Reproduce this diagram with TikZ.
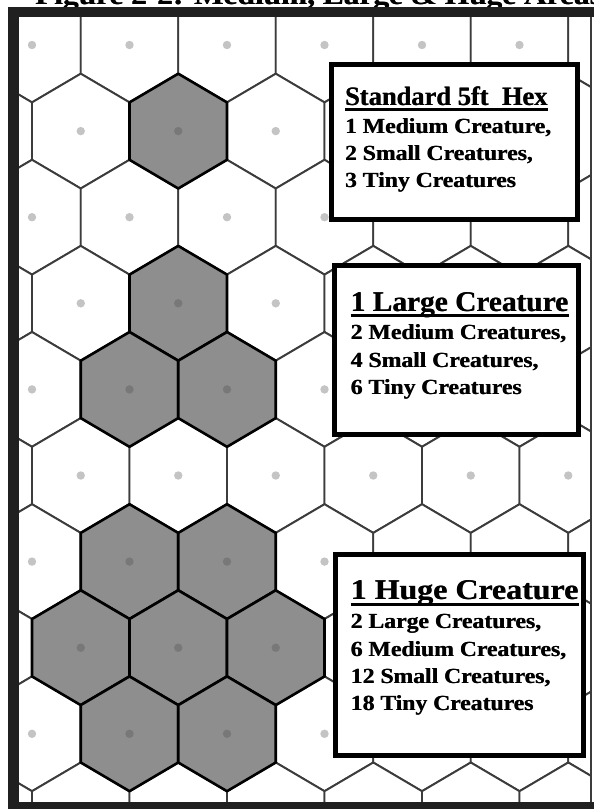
\documentclass[tikz,border=0pt]{standalone}
\usepackage{fontspec}
\setmainfont{Liberation Serif}
\usetikzlibrary{calc}
\definecolor{gridgray}{HTML}{3C3C3C}
\definecolor{shadegray}{HTML}{8E8E8E}
\definecolor{dotlight}{HTML}{C4C4C4}
\definecolor{dotdark}{HTML}{787878}
\definecolor{framecol}{HTML}{202020}
\newcommand{\tline}[3]{\scalebox{#1}[1]{\fontsize{#2}{#2}\selectfont\bfseries\rlap{#3}\kern0.45pt #3}}
\newcommand{\hexpath}[2]{(#1,#2-57.4) -- (#1+48.75,#2-28.7) -- (#1+48.75,#2+28.7) -- (#1,#2+57.4) -- (#1-48.75,#2+28.7) -- (#1-48.75,#2-28.7) -- cycle}
\begin{document}
\begin{tikzpicture}[x=1pt,y=-1pt,
  whitehex/.style={draw=gridgray,line width=1.9pt,fill=white,line join=round},
  shadehex/.style={draw=black,line width=2.6pt,fill=shadegray,line join=round},
  lightdot/.style={fill=dotlight},
  darkdot/.style={fill=dotdark},
  infobox/.style={draw=black,line width=5pt,fill=white,inner sep=0pt},
  txt/.style={anchor=base west,inner sep=0pt,outer sep=0pt},
  uline/.style={line width=2.7pt}]
\useasboundingbox (0,0) rectangle (594,809);
\fill[white] (0,0) rectangle (594,809);
% title (mostly cut off by the top edge)
\node[txt] (title) at (35,4.5) {\tline{1.12}{28}{Figure 2-2: Medium, Large \& Huge Areas}};
% hex grid
\begin{scope}
\clip (19,17) rectangle (591,802);
\foreach \r in {0,...,9}{
  \pgfmathsetmacro{\cy}{45+86.1*\r}
  \pgfmathsetmacro{\xo}{mod(\r,2)==0 ? 32 : 80.75}
  \foreach \c in {-1,...,6}{
    \pgfmathsetmacro{\cx}{\xo+97.5*\c}
    \path[whitehex] \hexpath{\cx}{\cy};
    \fill[lightdot] (\cx,\cy) circle (4.2);
  }
}
\foreach \r/\cx in {1/178.25,3/178.25,4/129.5,4/227,6/129.5,6/227,7/80.75,7/178.25,7/275.75,8/129.5,8/227}{
  \pgfmathsetmacro{\cy}{45+86.1*\r}
  \path[shadehex] \hexpath{\cx}{\cy};
  \fill[darkdot] (\cx,\cy) circle (4.2);
}
\end{scope}
\draw[gridgray,line width=1.2pt] (591,17) -- (591,802);
% frame
\fill[framecol] (8,7) rectangle (594,17);
\fill[framecol] (8,7) rectangle (19,809);
\fill[framecol] (8,802) rectangle (594,809);
% box 1
\node[infobox,minimum width=246pt,minimum height=155pt] (box1) at (454.5,142) {};
\node[txt] (h1) at (345,105) {\tline{1.0}{26.5}{Standard 5ft\ \ Hex}};
\draw[uline,line width=2.5pt] ($(h1.base west)+(0,4.5)$) -- ($(h1.base east)+(0,4.5)$);
\node[txt] (a1) at (345,133) {\tline{1.1}{21.5}{1 Medium Creature,}};
\node[txt] (a2) at (345,160) {\tline{1.1}{21.5}{2 Small Creatures,}};
\node[txt] (a3) at (345,187) {\tline{1.1}{21.5}{3 Tiny Creatures}};
% box 2
\node[infobox,minimum width=244pt,minimum height=169pt] (box2) at (456.5,350) {};
\node[txt] (h2) at (350.7,311.5) {\tline{1.03}{28.5}{1 Large Creature}};
\draw[uline] ($(h2.base west)+(0,4.2)$) -- ($(h2.base east)+(0,4.2)$);
\node[txt] (b1) at (350.7,339.5) {\tline{1.1}{21.5}{2 Medium Creatures,}};
\node[txt] (b2) at (350.7,367) {\tline{1.1}{21.5}{4 Small Creatures,}};
\node[txt] (b3) at (350.7,394) {\tline{1.1}{21.5}{6 Tiny Creatures}};
% box 3
\node[infobox,minimum width=248pt,minimum height=201pt] (box3) at (459.5,655) {};
\node[txt] (h3) at (350.7,599.3) {\tline{1.12}{28.5}{1 Huge Creature}};
\draw[uline,line width=3pt] ($(h3.base west)+(0,5)$) -- ($(h3.base east)+(0,5)$);
\node[txt] (c1) at (350.7,628.3) {\tline{1.1}{21.5}{2 Large Creatures,}};
\node[txt] (c2) at (350.7,656) {\tline{1.1}{21.5}{6 Medium Creatures,}};
\node[txt] (c3) at (350.7,683.3) {\tline{1.1}{21.5}{12 Small Creatures,}};
\node[txt] (c4) at (350.7,710.7) {\tline{1.1}{21.5}{18 Tiny Creatures}};
\end{tikzpicture}
\end{document}
